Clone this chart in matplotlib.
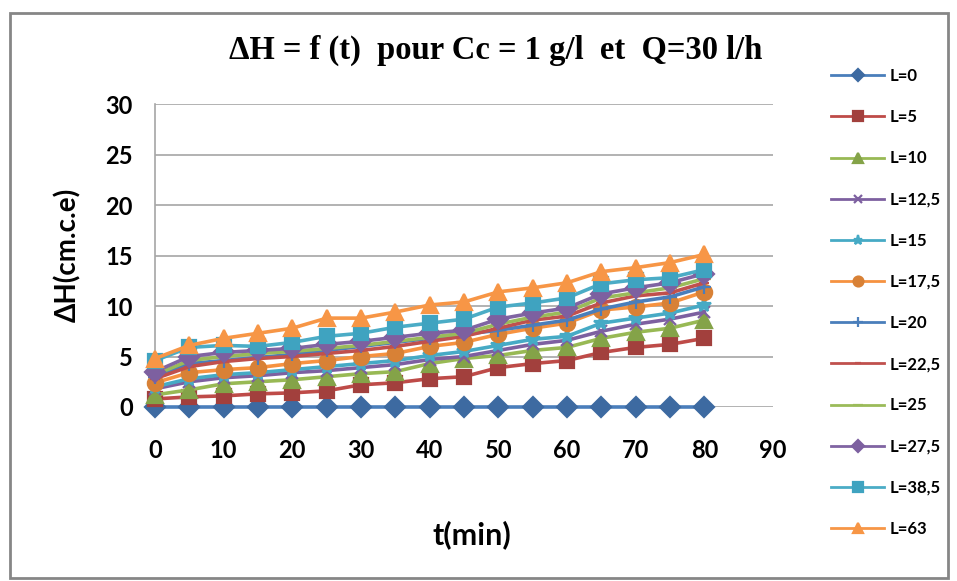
import matplotlib
matplotlib.use('Agg')
from matplotlib import pyplot as plt
from matplotlib.patches import Rectangle

# temps (min)
t = [0, 5, 10, 15, 20, 25, 30, 35, 40, 45, 50, 55, 60, 65, 70, 75, 80]

labels = ['L=0', 'L=5', 'L=10', 'L=12,5', 'L=15', 'L=17,5', 'L=20',
          'L=22,5', 'L=25', 'L=27,5', 'L=38,5', 'L=63']

# valeurs de deltaH
L0 = [0] * 17
L5 = [0.8, 1.0, 1.1, 1.3, 1.4, 1.6, 2.2, 2.4, 2.8, 3.0, 3.9, 4.3, 4.6, 5.4, 5.9, 6.2, 6.8]
L10 = [1.2, 1.7, 2.3, 2.5, 2.7, 3.0, 3.3, 3.5, 4.3, 4.8, 5.1, 5.6, 5.9, 6.8, 7.4, 7.8, 8.6]
L12_5 = [1.8, 2.5, 2.9, 3.1, 3.4, 3.6, 3.9, 4.2, 4.7, 5.0, 5.6, 6.2, 6.6, 7.5, 8.2, 8.7, 9.4]
L15 = [2.0, 2.8, 3.2, 3.4, 3.7, 4.0, 4.3, 4.6, 5.1, 5.5, 6.1, 6.7, 7.0, 8.3, 8.8, 9.3, 10.1]
L17_5 = [2.4, 3.4, 3.7, 3.9, 4.3, 4.6, 5.0, 5.3, 6.0, 6.4, 7.2, 7.8, 8.3, 9.6, 9.9, 10.3, 11.4]
L20 = [3.0, 4.3, 4.6, 4.9, 5.2, 5.6, 6.0, 6.4, 6.8, 7.2, 7.6, 8.1, 8.6, 9.7, 10.4, 10.9, 11.9]
L22_5 = [2.8, 4.0, 4.5, 4.8, 5.0, 5.3, 5.6, 6.0, 6.5, 7.0, 7.8, 8.6, 9.0, 10.3, 11.0, 11.3, 12.3]
L25 = [3.2, 4.6, 5.0, 5.3, 5.5, 5.8, 6.1, 6.5, 6.9, 7.3, 8.2, 8.9, 9.4, 10.8, 11.3, 11.8, 12.7]
L27_5 = [3.5, 5.0, 5.4, 5.6, 5.8, 6.2, 6.5, 6.9, 7.3, 7.6, 8.7, 9.3, 9.8, 11.2, 11.8, 12.3, 13.2]
L38_5 = [4.6, 5.9, 6.1, 6.0, 6.4, 7.0, 7.3, 7.9, 8.3, 8.7, 9.9, 10.3, 10.8, 12.2, 12.6, 12.8, 13.6]
L63 = [4.8, 6.1, 6.8, 7.3, 7.8, 8.8, 8.8, 9.4, 10.1, 10.4, 11.4, 11.8, 12.3, 13.4, 13.8, 14.3, 15.1]

series = [L0, L5, L10, L12_5, L15, L17_5, L20, L22_5, L25, L27_5, L38_5, L63]

# couleurs facon Excel 2007
line_colors = ['#4A7EBB', '#BE4B48', '#98B954', '#7D60A0', '#46AAC5', '#F69240',
               '#4A7EBB', '#C0504D', '#9BBB59', '#8064A2', '#4BACC6', '#F79646']
mark_colors = ['#3D6AA1', '#A2403D', '#84A348', '#7D60A0', '#46AAC5', '#D88136',
               '#4A7EBB', '#C0504D', '#9BBB59', '#7D60A0', '#3FA3C0', '#F79646']
markers = ['D', 's', '^', 'x', '*', 'o', '+', '_', '_', 'D', 's', '^']
msizes = [10, 10, 11, 9, 10, 11, 10, 7, 10, 10, 10, 12]

plt.rcParams['font.family'] = ['Lato', 'DejaVu Sans']

fig = plt.figure(figsize=(9.57, 5.81), dpi=100)
ax = fig.add_axes([155 / 957, 1 - 407 / 581, (773 - 155) / 957, (407 - 104) / 581])

handles = []
for i in range(len(series)):
    h, = ax.plot(t, series[i], color=line_colors[i], lw=2.6,
                 marker=markers[i], ms=msizes[i], mfc=mark_colors[i],
                 mec=mark_colors[i], mew=1.6, label=labels[i], clip_on=False,
                 zorder=3 + i)
    handles.append(h)

ax.set_xlim(0, 90)
ax.set_ylim(0, 30)
ax.set_xticks(range(0, 91, 10))
ax.set_yticks(range(0, 31, 5))
ax.grid(axis='y', color='#A6A6A6', lw=1.2)
ax.set_axisbelow(True)
for s in ['top', 'right', 'bottom']:
    ax.spines[s].set_visible(False)
ax.spines['left'].set_color('#A6A6A6')
ax.spines['left'].set_linewidth(1.2)
ax.tick_params(axis='both', length=0, labelsize=17)
ax.tick_params(axis='x', pad=23)
ax.tick_params(axis='y', pad=16)
for lab in ax.get_xticklabels() + ax.get_yticklabels():
    lab.set_fontweight('bold')

fig.text(496 / 957, 1 - 50 / 581, 'ΔH = f (t)  pour Cc = 1 g/l  et  Q=30 l/h',
         family='Liberation Serif', fontweight='bold', fontsize=23.5,
         ha='center', va='center')
fig.text(68 / 957, 1 - 255 / 581, 'ΔH(cm.c.e)', rotation=90, fontsize=20,
         fontweight='bold', ha='center', va='center')
fig.text(472 / 957, 1 - 535 / 581, 't(min)', fontsize=22, fontweight='bold',
         ha='center', va='center')

leg = fig.legend(handles=handles, loc='upper left',
                 bbox_to_anchor=(831 / 957, 1 - 68 / 581), frameon=False,
                 prop={'family': 'Lato', 'weight': 'bold', 'size': 12},
                 handlelength=3.2, handletextpad=0.3, labelspacing=1.51,
                 markerscale=0.65, borderaxespad=0, borderpad=0)
for line in leg.get_lines():
    line.set_linewidth(2.0)

# cadre du graphique
fig.patches.append(Rectangle((10 / 957, 1 - 578 / 581), 938 / 957, 565 / 581,
                             transform=fig.transFigure, fill=False,
                             edgecolor='#868686', lw=2))

plt.savefig('out.png', dpi=100)
